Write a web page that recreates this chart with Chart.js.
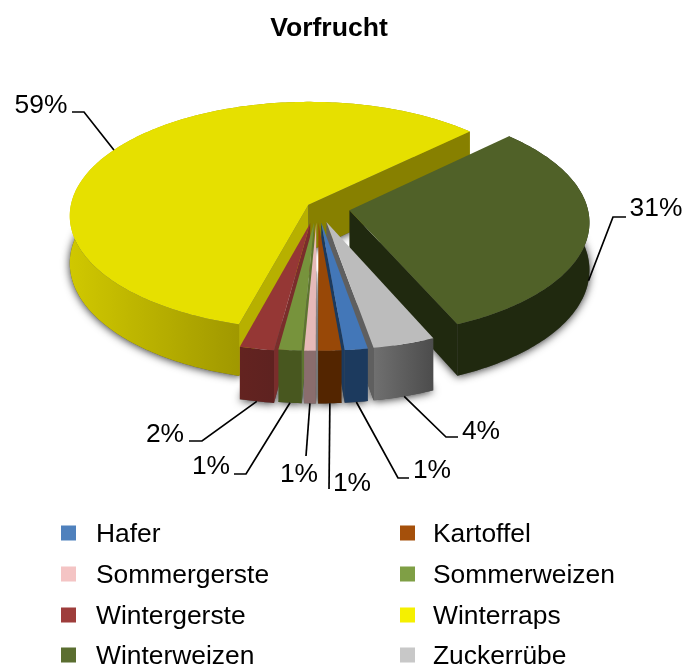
<!DOCTYPE html>
<html><head><meta charset="utf-8">
<style>html,body{margin:0;padding:0;background:#fff}canvas{display:block}</style>
<script src="https://cdn.jsdelivr.net/npm/chart.js@4/dist/chart.umd.min.js"></script>
</head><body>
<div style="width:684px;height:667px"><canvas id="c" width="684" height="667"></canvas></div>
<script>
const categories = ['Hafer','Kartoffel','Sommergerste','Sommerweizen','Wintergerste','Winterraps','Winterweizen','Zuckerrübe'];
const shares = [1.4,1.4,0.7,1.4,2.1,58.6,30.6,3.8];
const legendColors = ['#4f81bd','#a5500b','#f4c4c4','#7f9f45','#9e3d3b','#f5f000','#5b6e30','#c8c8c8'];
const topColors = ['#4377b8','#984807','#e6b9b8','#77933c','#953735','#e6e000','#506128','#bcbcbc'];
const wallColors = [['#1c3a5e','#1c3a5e'],['#532500','#532500'],['#8a6d6d','#8a6d6d'],['#48571f','#48571f'],['#632320','#5e2220'],['#d0c800','#a09800'],['#20290f','#20290f'],['#707070','#4c4c4c']];
const cutColors = ['#1c3a5e','#6e3505','#a98a8a','#5e7530','#7a2d2b','#b7b000','#20290f','#5f5f5f'];
const explode = [32,32,32,32,34,10,33,32];
const drawOrder = [5,6,7,4,0,3,1,2];
// label text centre and leader elbow, per slice
const labelAt = [[432,469,398,478,409,478],[352,482,329,489,329,489],[299,473,306,456,306,456],[211,465,246,474,234,474],[165,433,202,441,189,441],[41,104,84,112,72,112],[656,207,613,217,626,217],[481,430,446,437,458,437]];
const legendRows = [533,574,615,655];
const legendCols = [[61,96],[400,433]];

const TILT = 0.475, PERSP = 0.0945, DEPTH = 47, RADIUS = 238;
const FONT = '"Liberation Sans", Arial, sans-serif';

const pie3d = {
  id: 'pie3d',
  afterLayout(chart) { chart.titleBlock.left += 12; chart.titleBlock.right += 12; },
  beforeDatasetsDraw(chart) {
    const ctx = chart.ctx;
    const arcs = chart.getDatasetMeta(0).data;
    const geo = arcs.map((a, i) => {
      const p = a.getProps(['x','y','startAngle','endAngle','outerRadius'], true);
      const R = p.outerRadius, d = explode[i], mid = (p.startAngle + p.endAngle) / 2;
      const ox = d * Math.cos(mid), oy = d * Math.sin(mid);
      const pr = (X, Y, z) => { const s = 1 / (1 - PERSP * Y / R); return [p.x + X * s, p.y + (TILT * Y + z) * s]; };
      return { a0: p.startAngle, a1: p.endAngle, mid,
        rim: (t, z) => pr(ox + R * Math.cos(t), oy + R * Math.sin(t), z),
        apex: z => pr(ox, oy, z) };
    });
    const poly = pts => { ctx.beginPath(); pts.forEach((q, j) => j ? ctx.lineTo(q[0], q[1]) : ctx.moveTo(q[0], q[1])); ctx.closePath(); };
    const rimPts = (g, z, rev) => { const n = Math.max(4, Math.ceil((g.a1 - g.a0) * 60)), o = [];
      for (let j = 0; j <= n; j++) o.push(g.rim(g.a0 + (g.a1 - g.a0) * j / n, z));
      return rev ? o.reverse() : o; };

    // soft contact shadow
    ctx.save();
    ctx.shadowColor = 'rgba(0,0,0,0.8)'; ctx.shadowBlur = 8; ctx.shadowOffsetY = 1;
    ctx.fillStyle = '#555';
    drawOrder.forEach(i => { const g = geo[i]; poly([g.apex(DEPTH), ...rimPts(g, DEPTH)]); ctx.fill(); });
    ctx.restore();

    drawOrder.forEach(i => {
      const g = geo[i];
      const top = rimPts(g, 0);
      const front = top.map(q => q[0]);
      const grad = ctx.createLinearGradient(Math.min(...front), 0, i === 5 ? g.rim(g.a0, 0)[0] : Math.max(...front), 0);
      grad.addColorStop(0, wallColors[i][0]); grad.addColorStop(1, wallColors[i][1]);
      ctx.fillStyle = grad;
      poly([...top, ...rimPts(g, DEPTH, true)]); ctx.fill();
      ctx.fillStyle = cutColors[i];
      const ax = g.apex(0)[0];
      const end = g.rim(g.a1, 0), start = g.rim(g.a0, 0);
      if (start[0] < ax) { poly([g.apex(0), start, g.rim(g.a0, DEPTH), g.apex(DEPTH)]); ctx.fill(); }
      if (end[0] > ax) {
        if (i === 5) ctx.fillStyle = '#878000';
        poly([g.apex(0), end, g.rim(g.a1, DEPTH), g.apex(DEPTH)]); ctx.fill();
      }
      ctx.fillStyle = topColors[i];
      poly([g.apex(0), ...top]); ctx.fill();
    });

    // percentage labels with leader lines
    ctx.save();
    ctx.font = '26.4px ' + FONT; ctx.fillStyle = '#000'; ctx.textAlign = 'center'; ctx.textBaseline = 'middle';
    ctx.strokeStyle = '#000'; ctx.lineWidth = 1.7;
    geo.forEach((g, i) => {
      const l = labelAt[i];
      const anchor = g.rim(g.mid, i === 5 ? 0 : DEPTH);
      ctx.beginPath(); ctx.moveTo(anchor[0], anchor[1]); ctx.lineTo(l[2], l[3]); ctx.lineTo(l[4], l[5]); ctx.stroke();
      ctx.fillText(Math.round(shares[i]) + '%', l[0], l[1] + 2);
    });
    // legend, two columns
    ctx.textAlign = 'left';
    categories.forEach((name, i) => {
      const col = legendCols[i % 2], y = legendRows[Math.floor(i / 2)];
      ctx.fillStyle = legendColors[i];
      ctx.fillRect(col[0], y - 7.5, 15, 15);
      ctx.fillStyle = '#000';
      ctx.fillText(name, col[1], y + 2);
    });
    ctx.restore();
    return false;
  }
};

new Chart(document.getElementById('c'), {
  type: 'pie',
  data: { labels: categories, datasets: [{ data: shares, backgroundColor: topColors, borderWidth: 0, offset: explode }] },
  options: {
    responsive: false, animation: false, rotation: 170, radius: RADIUS,
    layout: { padding: { top: 0, left: 0, right: 50, bottom: 297.6 } },
    plugins: {
      legend: { display: false }, tooltip: { enabled: false },
      title: { display: true, text: 'Vorfrucht', color: '#000', font: { family: FONT, size: 26.6, weight: 'bold' }, padding: { top: 13, bottom: 0 } }
    }
  },
  plugins: [pie3d]
});
</script>
</body></html>
